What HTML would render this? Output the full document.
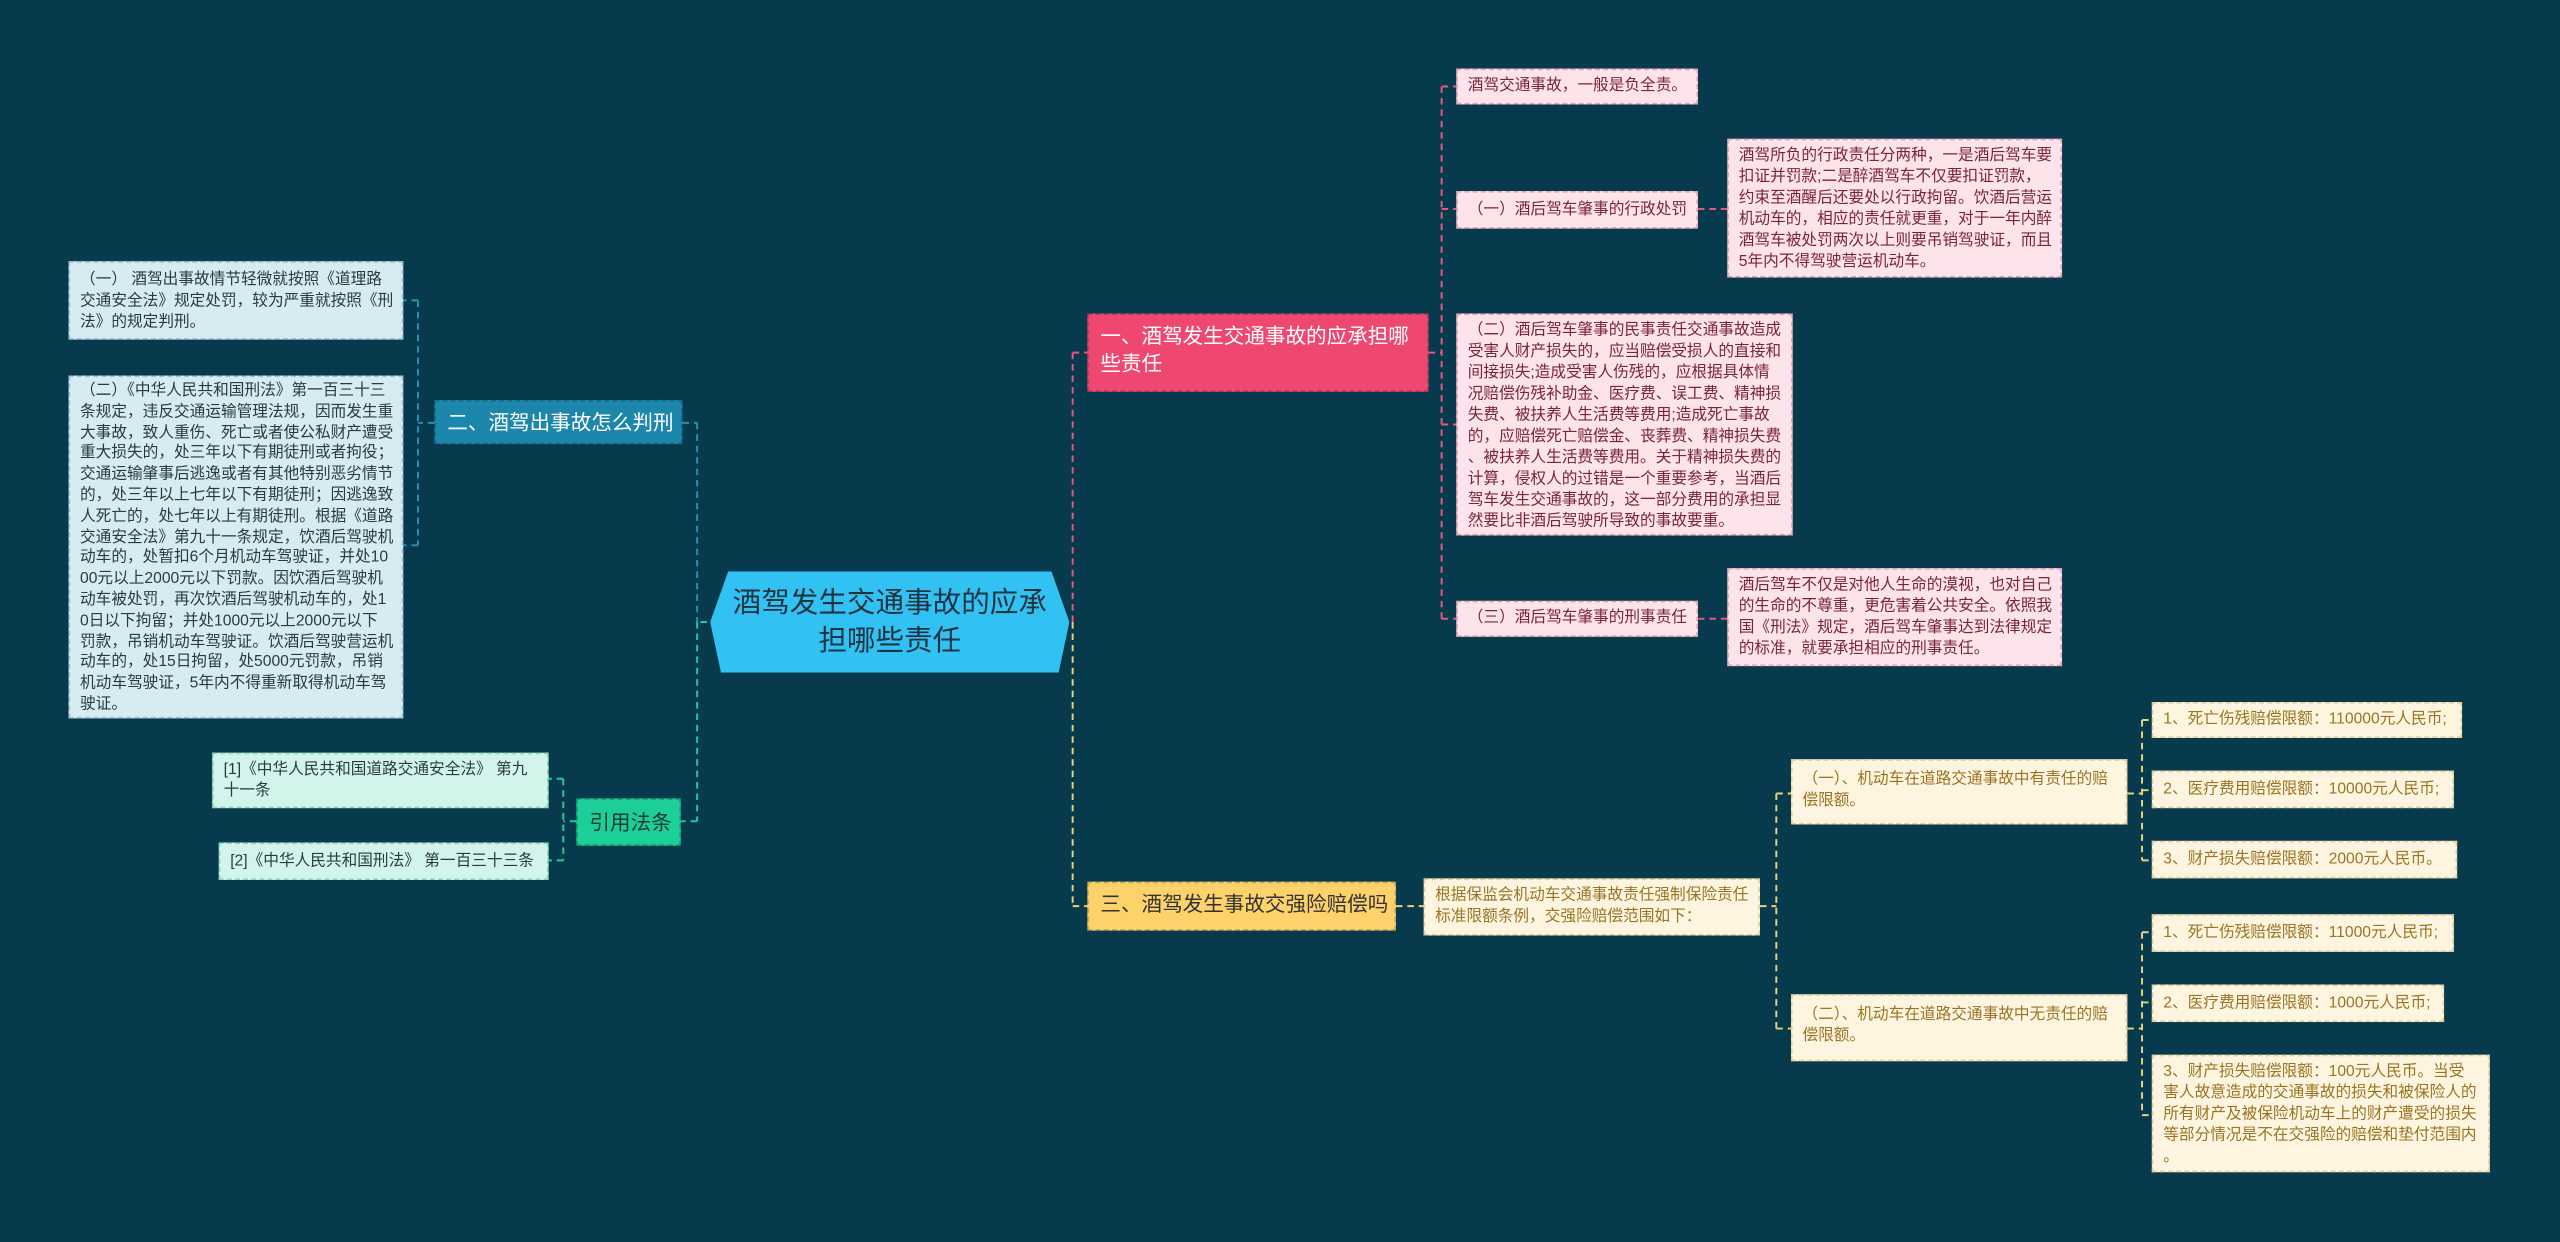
<!DOCTYPE html>
<html><head><meta charset="utf-8"><style>
html,body{margin:0;padding:0;background:#083a4e;}
body{width:2560px;height:1242px;overflow:hidden;}
#s{position:absolute;left:0;top:0;width:1568px;height:761px;transform:scale(1.63265);transform-origin:0 0;font-family:"Liberation Sans","Noto Sans CJK SC",sans-serif;}
.n{position:absolute;box-sizing:border-box;font-size:9.6px;line-height:13px;padding:3px 6px;border:1px dashed;white-space:nowrap;overflow:hidden;}
.p{background:#fde3ea;border-color:#e9a2b5;color:#7a2438;}
.y{background:#fdf5df;border-color:#e3cf98;color:#9a7424;}
.t{background:#d6ebf2;border-color:#9cc4d2;color:#2a3a40;}
.g{background:#d3f4ea;border-color:#8fd5bf;color:#2a3a40;}
.b{position:absolute;box-sizing:border-box;font-size:12.6px;line-height:17px;padding:5px 7px;border:1px dashed rgba(0,0,0,.2);white-space:nowrap;overflow:hidden;}
svg{position:absolute;left:0;top:0;}
</style></head><body><div id="s">
<svg width="1568" height="761" fill="none" stroke-width="1.2" stroke-dasharray="4,3">
<g stroke="#e05a80">
<path d="M875 216H883M883 53V379M883 53H892M883 128H892M883 260H892M883 379H892M1040 128H1058M1040 379H1058M657 216V381M657 216H666"/>
</g>
<g stroke="#e8d27a">
<path d="M650 381H657M657 381V555M657 555H666M855 555H872M1078 555H1088M1088 486V630M1088 486H1097M1088 630H1097M1303 486H1312M1312 441V527M1312 441H1318M1312 484H1318M1312 527H1318M1303 630H1312M1312 571V683M1312 571H1318M1312 614H1318M1312 683H1318"/>
</g>
<g stroke="#2a8fb0">
<path d="M427 259V381M418 259H427M266 259H256M256 184V334M256 184H247M256 334H247"/>
</g>
<g stroke="#27c79a">
<path d="M440 381H427M427 381V503M427 503H417M353 503H345M345 477V527M345 477H336M345 527H336"/>
</g>
</svg>

<div style="position:absolute;left:435px;top:350px;width:220px;height:62px;background:#31c2f3;clip-path:polygon(5% 0,95% 0,100% 50%,97% 100%,3% 100%,0 50%);color:#1f3340;font-size:17.5px;line-height:23px;text-align:center;padding-top:8px;box-sizing:border-box;">酒驾发生交通事故的应承<br>担哪些责任</div>

<div class="b" style="left:666px;top:192px;width:209px;height:48px;background:#ee4870;color:#fff;">一、酒驾发生交通事故的应承担哪<br>些责任</div>
<div class="b" style="left:666px;top:540px;width:189px;height:30px;background:#fdd26b;color:#333;">三、酒驾发生事故交强险赔偿吗</div>
<div class="b" style="left:266px;top:245px;width:152px;height:27px;background:#1d86ab;color:#fff;">二、酒驾出事故怎么判刑</div>
<div class="b" style="left:353px;top:489px;width:64px;height:29px;background:#1ccf98;color:#1f3a35;padding-top:6px;">引用法条</div>

<div class="n p" style="left:892px;top:42px;width:148px;height:22px;">酒驾交通事故，一般是负全责。</div>
<div class="n p" style="left:892px;top:117px;width:148px;height:23px;padding-top:4px;">（一）酒后驾车肇事的行政处罚</div>
<div class="n p" style="left:1058px;top:85px;width:205px;height:85px;">酒驾所负的行政责任分两种，一是酒后驾车要<br>扣证并罚款;二是醉酒驾车不仅要扣证罚款，<br>约束至酒醒后还要处以行政拘留。饮酒后营运<br>机动车的，相应的责任就更重，对于一年内醉<br>酒驾车被处罚两次以上则要吊销驾驶证，而且<br>5年内不得驾驶营运机动车。</div>
<div class="n p" style="left:892px;top:192px;width:206px;height:136px;">（二）酒后驾车肇事的民事责任交通事故造成<br>受害人财产损失的，应当赔偿受损人的直接和<br>间接损失;造成受害人伤残的，应根据具体情<br>况赔偿伤残补助金、医疗费、误工费、精神损<br>失费、被扶养人生活费等费用;造成死亡事故<br>的，应赔偿死亡赔偿金、丧葬费、精神损失费<br>、被扶养人生活费等费用。关于精神损失费的<br>计算，侵权人的过错是一个重要参考，当酒后<br>驾车发生交通事故的，这一部分费用的承担显<br>然要比非酒后驾驶所导致的事故要重。</div>
<div class="n p" style="left:892px;top:368px;width:148px;height:22px;">（三）酒后驾车肇事的刑事责任</div>
<div class="n p" style="left:1058px;top:348px;width:205px;height:60px;">酒后驾车不仅是对他人生命的漠视，也对自己<br>的生命的不尊重，更危害着公共安全。依照我<br>国《刑法》规定，酒后驾车肇事达到法律规定<br>的标准，就要承担相应的刑事责任。</div>

<div class="n y" style="left:872px;top:538px;width:206px;height:35px;">根据保监会机动车交通事故责任强制保险责任<br>标准限额条例，交强险赔偿范围如下：</div>
<div class="n y" style="left:1097px;top:465px;width:206px;height:40px;padding-top:5px;">（一）、机动车在道路交通事故中有责任的赔<br>偿限额。</div>
<div class="n y" style="left:1097px;top:609px;width:206px;height:41px;padding-top:5px;">（二）、机动车在道路交通事故中无责任的赔<br>偿限额。</div>
<div class="n y" style="left:1318px;top:430px;width:190px;height:22px;">1、死亡伤残赔偿限额：110000元人民币;</div>
<div class="n y" style="left:1318px;top:472px;width:185px;height:23px;padding-top:4px;">2、医疗费用赔偿限额：10000元人民币;</div>
<div class="n y" style="left:1318px;top:515px;width:187px;height:23px;padding-top:4px;">3、财产损失赔偿限额：2000元人民币。</div>
<div class="n y" style="left:1318px;top:560px;width:185px;height:23px;padding-top:4px;">1、死亡伤残赔偿限额：11000元人民币;</div>
<div class="n y" style="left:1318px;top:603px;width:179px;height:23px;padding-top:4px;">2、医疗费用赔偿限额：1000元人民币;</div>
<div class="n y" style="left:1318px;top:646px;width:207px;height:72px;">3、财产损失赔偿限额：100元人民币。当受<br>害人故意造成的交通事故的损失和被保险人的<br>所有财产及被保险机动车上的财产遭受的损失<br>等部分情况是不在交强险的赔偿和垫付范围内<br>。</div>

<div class="n t" style="left:42px;top:160px;width:205px;height:48px;padding-top:4px;">（一） 酒驾出事故情节轻微就按照《道理路<br>交通安全法》规定处罚，较为严重就按照《刑<br>法》的规定判刑。</div>
<div class="n t" style="left:42px;top:230px;width:205px;height:210px;line-height:12.8px;">（二）《中华人民共和国刑法》第一百三十三<br>条规定，违反交通运输管理法规，因而发生重<br>大事故，致人重伤、死亡或者使公私财产遭受<br>重大损失的，处三年以下有期徒刑或者拘役；<br>交通运输肇事后逃逸或者有其他特别恶劣情节<br>的，处三年以上七年以下有期徒刑；因逃逸致<br>人死亡的，处七年以上有期徒刑。根据《道路<br>交通安全法》第九十一条规定，饮酒后驾驶机<br>动车的，处暂扣6个月机动车驾驶证，并处10<br>00元以上2000元以下罚款。因饮酒后驾驶机<br>动车被处罚，再次饮酒后驾驶机动车的，处1<br>0日以下拘留；并处1000元以上2000元以下<br>罚款，吊销机动车驾驶证。饮酒后驾驶营运机<br>动车的，处15日拘留，处5000元罚款，吊销<br>机动车驾驶证，5年内不得重新取得机动车驾<br>驶证。</div>
<div class="n g" style="left:130px;top:461px;width:206px;height:34px;">[1]《中华人民共和国道路交通安全法》 第九<br>十一条</div>
<div class="n g" style="left:134px;top:516px;width:202px;height:23px;padding-top:4px;">[2]《中华人民共和国刑法》 第一百三十三条</div>
</div></body></html>
